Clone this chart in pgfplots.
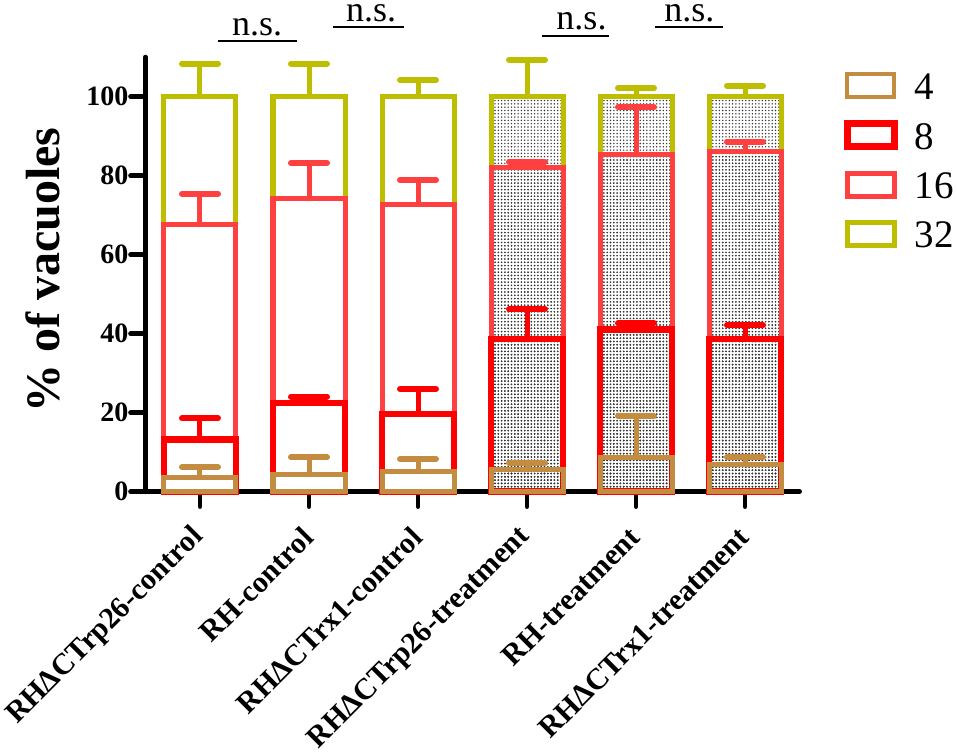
\documentclass[border=0pt]{standalone}
\usepackage{fontspec}
\setmainfont{Liberation Serif}
\usepackage{pgfplots}
\pgfplotsset{compat=1.18}
\usepackage{pgfplotstable}
\usetikzlibrary{patterns}
\definecolor{cfour}{RGB}{196,140,64}
\definecolor{ceight}{RGB}{255,0,0}
\definecolor{csixteen}{RGB}{255,64,64}
\definecolor{cthirtytwo}{RGB}{190,190,0}
\pgfdeclarepatternformonly{bigdots}{\pgfqpoint{-1pt}{-1pt}}{\pgfqpoint{1pt}{1pt}}{\pgfqpoint{3.3pt}{3.3pt}}{\pgfpathcircle{\pgfqpoint{0pt}{0pt}}{0.8pt}\pgfusepath{fill}}

% cumulative tops of each segment and upper SEM
\pgfplotstableread{
x c4 c8 c16 c32 e4 e8 e16 e32
0 3.6 13.2 67.6 100 2.6 5.4 7.8 8.4
1 4.3 22.4 74.2 100 4.4 1.7 9.0 8.4
2 5.1 19.7 72.7 100 3.2 6.3 6.2 4.2
}\controltab
\pgfplotstableread{
x c4 c8 c16 c32 e4 e8 e16 e32
3 5.7 38.7 82.1 100 1.6 7.5 1.4 9.4
4 8.7 41.1 85.3 100 10.4 1.5 12.0 2.1
5 7.0 38.6 86.2 100 1.7 3.5 2.4 2.8
}\treattab

\pgfplotsset{
  seg/.style 2 args={ybar, bar width=72pt, bar shift=0pt, draw=#1, line width=#2, forget plot,
    /pgfplots/error bars/y dir=plus, /pgfplots/error bars/y explicit,
    /pgfplots/error bars/error mark=|,
    /pgfplots/error bars/error bar style={draw=#1, line width=5pt, line cap=round},
    /pgfplots/error bars/error mark options={draw=#1, line width=6pt, mark size=18pt, line cap=round}},
  ctl/.style={fill=white},
  trt/.style={pattern=bigdots, pattern color=black!80},
}

\begin{document}
\begin{tikzpicture}
\useasboundingbox (-145.5pt,-262.3pt) rectangle (811.5pt,491.7pt);
\begin{axis}[
  at={(0pt,0pt)}, anchor=south west,
  scale only axis, width=654pt, height=434.5pt,
  xmin=-0.5, xmax=5.5, ymin=0, ymax=110,
  axis lines*=left,
  axis line style={line width=5pt, line cap=round},
  tick align=outside, major tick length=15pt,
  tick style={line width=4.5pt, black, line cap=round},
  ytick={0,20,...,100},
  xtick={0,1,2,3,4,5},
  xticklabels={RHΔCTrp26-control, RH-control, RHΔCTrx1-control, RHΔCTrp26-treatment, RH-treatment, RHΔCTrx1-treatment},
  /pgf/number format/assume math mode=true,
  yticklabel style={font=\bfseries\fontsize{28}{28}\selectfont, anchor=east, inner sep=0pt, xshift=-2pt},
  xticklabel style={font=\bfseries\fontsize{30}{30}\selectfont, xshift=-1pt, yshift=-26pt, rotate=45, anchor=east, inner sep=0pt},
  ylabel={\% of vacuoles},
  ylabel style={font=\bfseries\fontsize{48}{48}\selectfont, at={(axis description cs:-0.157,0.51)}, rotate=0, anchor=center},
  clip=false,
  legend image code/.code={\draw[fill=white] (0pt,-11.5pt) rectangle (47pt,11.5pt);},
  legend style={draw=none, fill=none, at={(axis description cs:1.0673,0.968)}, anchor=north west,
    font=\fontsize{39}{39}\selectfont, inner sep=0pt, row sep=20.8pt, column sep=17pt,
    nodes={inner sep=0pt, text height=28pt, text depth=0pt}},
  legend cell align=left,
]
% control bars
\addplot[ctl, seg={cthirtytwo}{5pt}] table[x=x, y=c32, y error=e32]{\controltab};
\addplot[ctl, seg={csixteen}{5pt}] table[x=x, y=c16, y error=e16]{\controltab};
\addplot[ctl, seg={ceight}{6.5pt}] table[x=x, y=c8, y error=e8]{\controltab};
\addplot[ctl, seg={cfour}{5pt}] table[x=x, y=c4, y error=e4]{\controltab};
% treatment bars
\addplot[trt, seg={cthirtytwo}{5pt}] table[x=x, y=c32, y error=e32]{\treattab};
\addplot[trt, seg={csixteen}{5pt}] table[x=x, y=c16, y error=e16]{\treattab};
\addplot[trt, seg={ceight}{6.5pt}] table[x=x, y=c8, y error=e8]{\treattab};
\addplot[trt, seg={cfour}{5pt}] table[x=x, y=c4, y error=e4]{\treattab};

\addlegendimage{draw=cfour, line width=4pt}
\addlegendentry{4}
\addlegendimage{draw=ceight, line width=7pt}
\addlegendentry{8}
\addlegendimage{draw=csixteen, line width=5pt}
\addlegendentry{16}
\addlegendimage{draw=cthirtytwo, line width=5pt}
\addlegendentry{32}

% significance annotations
\draw[line width=2pt] (axis cs:0.165,114.1) -- (axis cs:0.89,114.1);
\node[anchor=base, inner sep=0pt, font=\fontsize{36}{36}\selectfont] at (axis cs:0.523,115.6) {n.s.};
\draw[line width=2pt] (axis cs:1.22,117.7) -- (axis cs:1.87,117.7);
\node[anchor=base, inner sep=0pt, font=\fontsize{36}{36}\selectfont] at (axis cs:1.57,119.1) {n.s.};
\draw[line width=2pt] (axis cs:3.14,115.4) -- (axis cs:3.75,115.4);
\node[anchor=base, inner sep=0pt, font=\fontsize{36}{36}\selectfont] at (axis cs:3.50,116.9) {n.s.};
\draw[line width=2pt] (axis cs:4.17,117.7) -- (axis cs:4.80,117.7);
\node[anchor=base, inner sep=0pt, font=\fontsize{36}{36}\selectfont] at (axis cs:4.49,119.1) {n.s.};
\end{axis}
\end{tikzpicture}
\end{document}
